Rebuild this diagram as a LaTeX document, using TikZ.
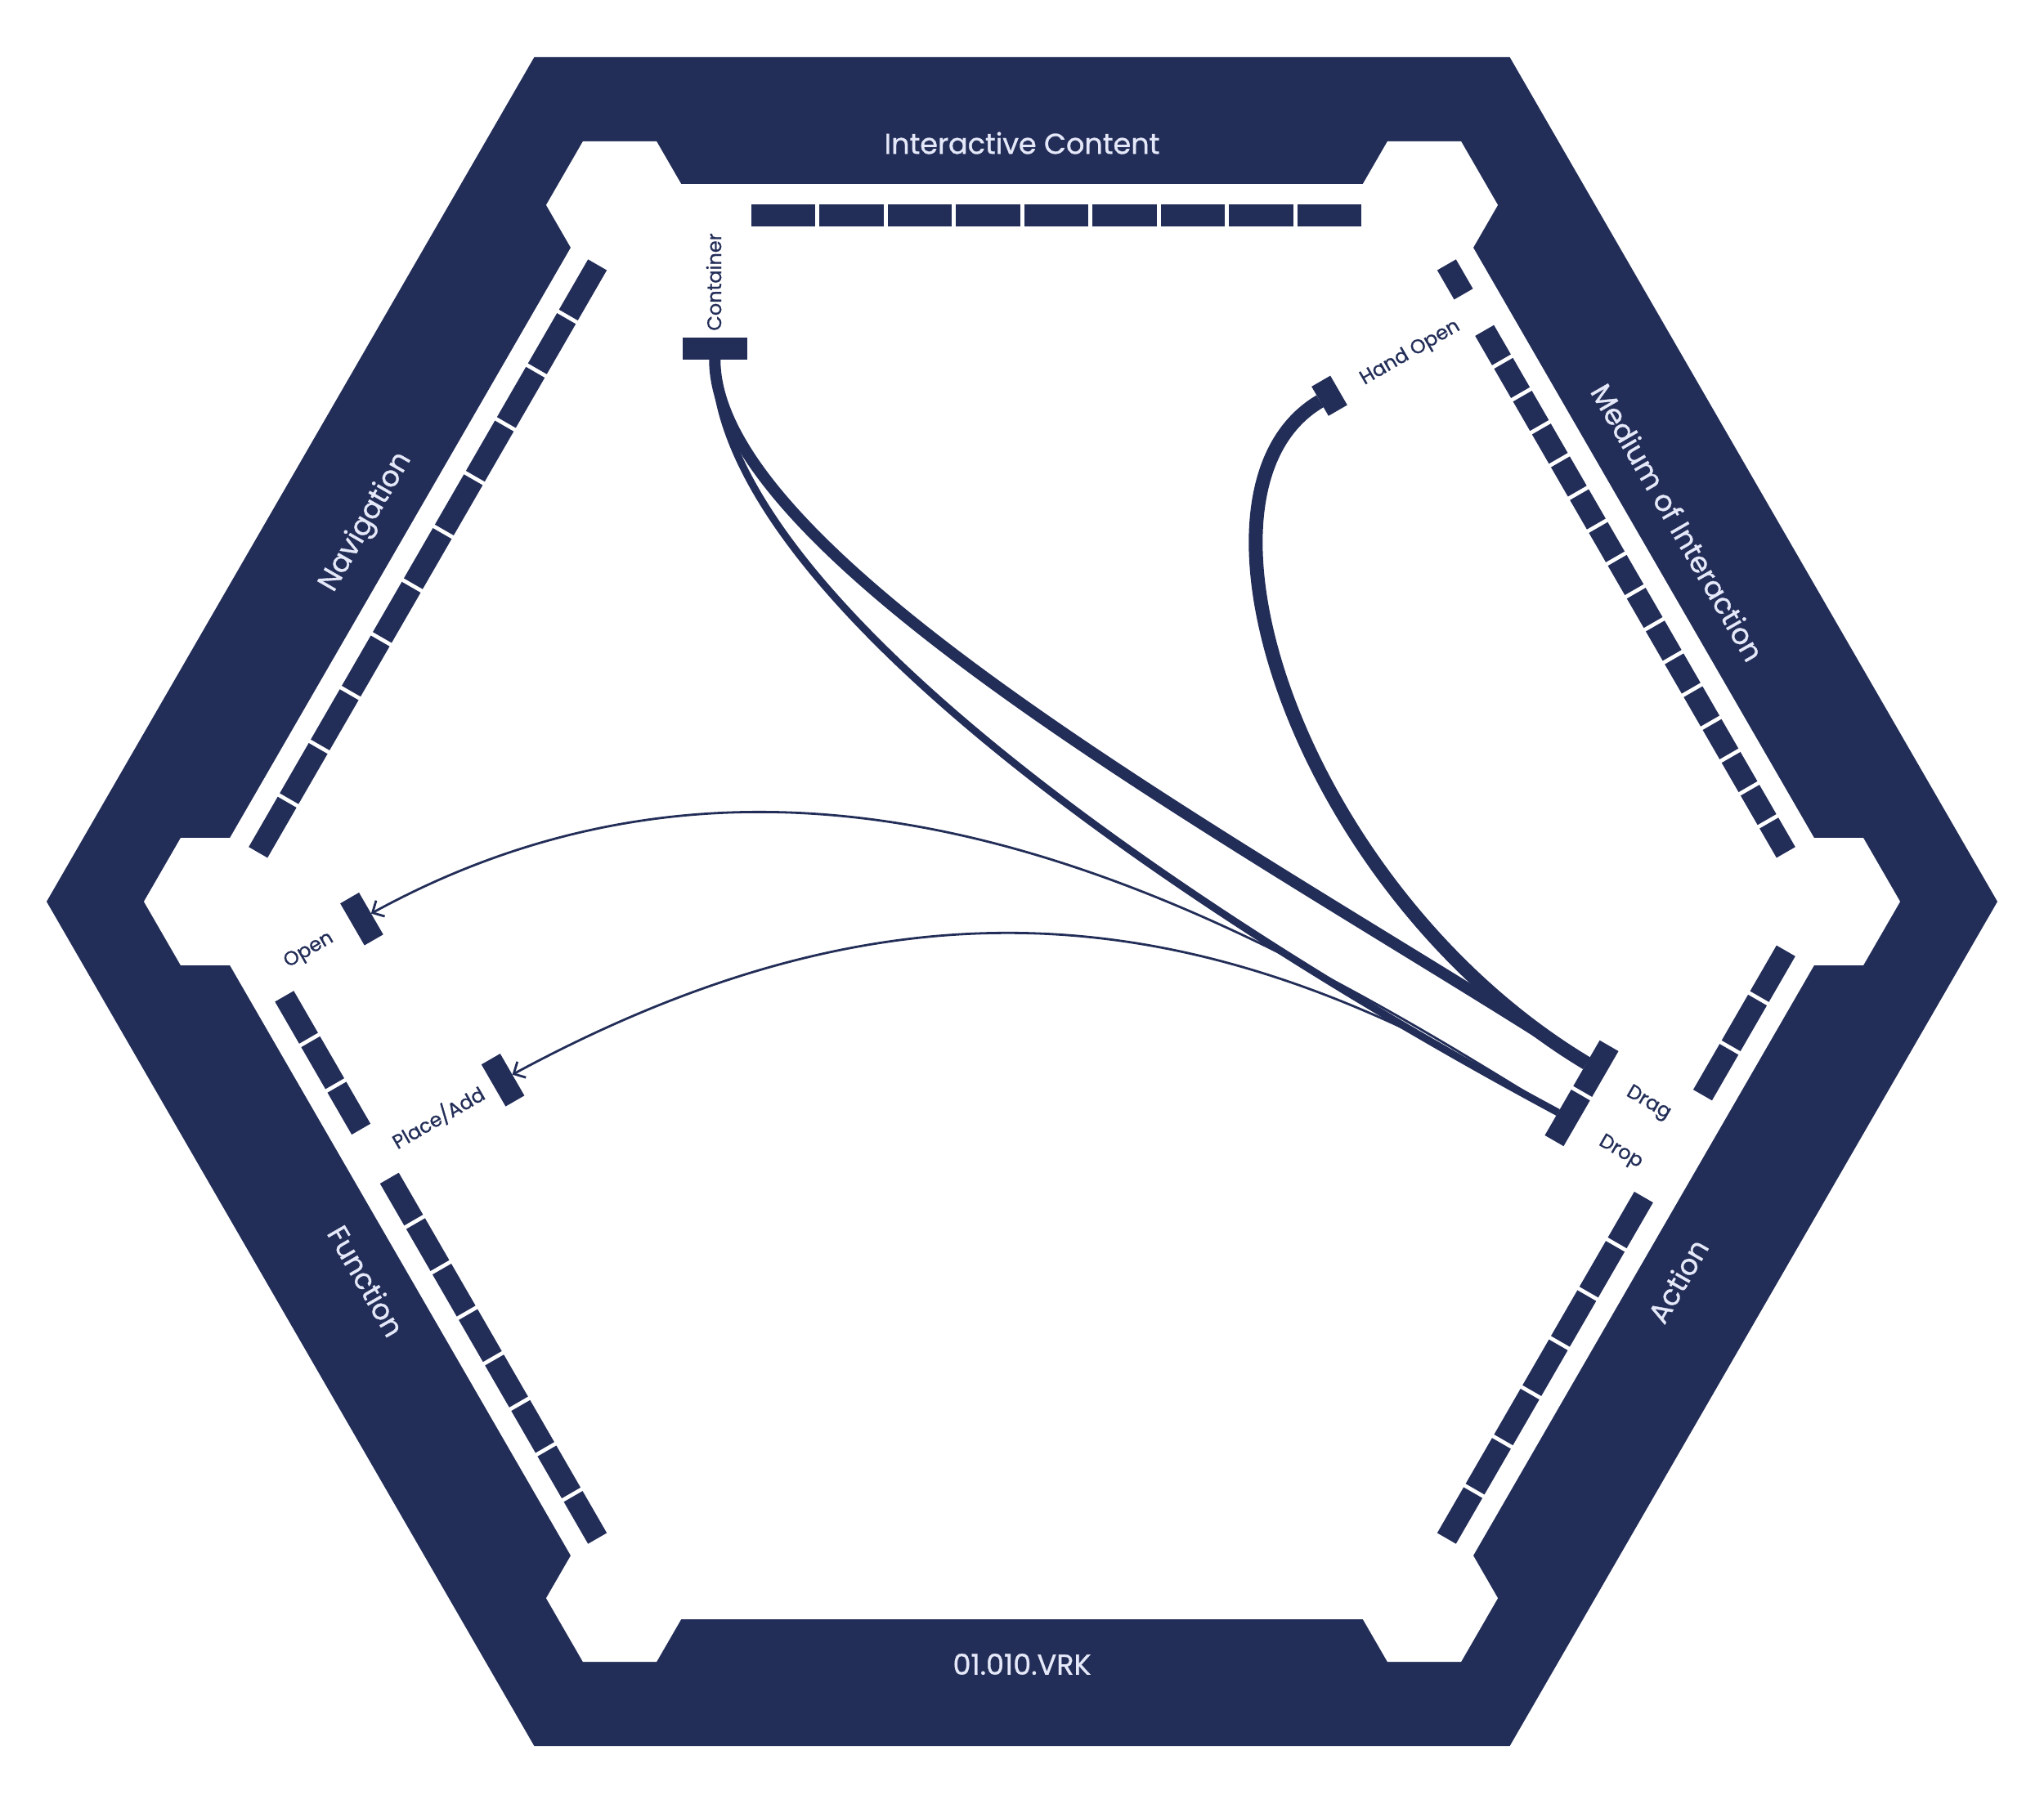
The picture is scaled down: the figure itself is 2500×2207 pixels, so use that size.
\documentclass[tikz,border=0pt]{standalone}
\usepackage{fontspec}
\setmainfont{Poppins}
\newfontface\labfont{Poppins}[FakeBold=0.9]
\usetikzlibrary{arrows.meta}
\definecolor{navy}{RGB}{35,46,88}
\definecolor{pale}{RGB}{228,232,248}
\begin{document}
\begin{tikzpicture}[x=1pt,y=1pt,
  mk/.style={fill=navy,draw=none,inner sep=0pt,outer sep=0pt,minimum height=26.5pt},
  band/.style={text=pale,font=\labfont\fontsize{35}{40}\selectfont,inner sep=0pt},
  lab/.style={text=navy,font=\labfont\fontsize{24}{28}\selectfont,inner sep=0pt},
  conn/.style={draw=navy,line cap=butt},
  thinarrow/.style={draw=navy,line width=2.8pt,-{Straight Barb[length=11pt,width=22pt]}}
]
\useasboundingbox (0,0) rectangle (2500,-2207);

% ---- frame ----
\begin{scope}[shift={(1250,-1103)}]
  \fill[navy] (0:1193) -- (60:1193) -- (120:1193) -- (180:1193) -- (240:1193) -- (300:1193) -- cycle;
  \fill[white] (0:1013.8) -- (60:1013.8) -- (120:1013.8) -- (180:1013.8) -- (240:1013.8) -- (300:1013.8) -- cycle;
  \foreach \a in {0,60,...,300} {
    \begin{scope}[shift={(\a:984)}]
      \fill[white] (0:90) -- (60:90) -- (120:90) -- (180:90) -- (240:90) -- (300:90) -- cycle;
    \end{scope}
  }
  % top row (10 slots)
  \foreach \i in {1,...,9} \fill[navy] ({-415+\i*83.5},826) rectangle ++(78.5,26.5);
  % navigation (11 slots)
  \begin{scope}[rotate=60]
    \foreach \i in {0,...,10} \fill[navy] ({-415+\i*75.909},826) rectangle ++(70.909,26.5);
  \end{scope}
  % medium of interaction (18 slots)
  \begin{scope}[rotate=-60]
    \foreach \i in {0,2,3,...,17} \fill[navy] ({-415+\i*46.389},826) rectangle ++(41.389,26.5);
  \end{scope}
  % action (12 slots)
  \begin{scope}[rotate=240]
    \foreach \i in {0,1,2,5,6,...,11} \fill[navy] ({-415+\i*69.583},826) rectangle ++(64.583,26.5);
  \end{scope}
  % function (13 slots)
  \begin{scope}[rotate=120]
    \foreach \i in {0,...,7,9,10,11} \fill[navy] ({-415+\i*64.231},826) rectangle ++(59.231,26.5);
  \end{scope}
\end{scope}

% ---- selected markers ----
\begin{scope}[shift={(1250,-1103)}]
  \node[mk,minimum width=78.5pt] (container) at (-375.75,676.5) {};
\end{scope}
\begin{scope}[shift={(1250,-1103)},rotate=-60]
  \node[mk,minimum width=41.389pt,rotate=-60] (handopen) at (-347.9,635) {};
\end{scope}
\begin{scope}[shift={(1250,-1103)},rotate=240]
  \node[mk,minimum width=64.583pt,rotate=240] (drag) at (-174,710) {};
  \node[mk,minimum width=64.583pt,rotate=240] (drop) at (-104.4,710) {};
\end{scope}
\begin{scope}[shift={(1250,-1103)},rotate=120]
  \node[mk,minimum width=59.231pt,rotate=120] (open) at (385.4,710) {};
  \node[mk,minimum width=59.231pt,rotate=120] (placeadd) at (128.4,659) {};
\end{scope}

% ---- band labels ----
\node[band] (tInteractive) at (1250,-175) {Interactive Content};
\node[band] (tVRK) at (1250,-2036) {01.010.VRK};
\node[band,rotate=60] (tNavigation) at (448,-639) {Navigation};
\node[band,rotate=-60] (tMedium) at (2052,-639) {Medium of Interaction};
\node[band,rotate=60] (tAction) at (2052,-1567) {Action};
\node[band,rotate=-60] (tFunction) at (448,-1567) {Function};

% ---- marker labels ----
\node[lab,rotate=90] (lContainer) at (873,-345) {Container};
\node[lab,rotate=30] (lHandOpen) at (1725,-432) {Hand Open};
\node[lab,rotate=-30] (lDrag) at (2016,-1350) {Drag};
\node[lab,rotate=-30] (lDrop) at (1982,-1410) {Drop};
\node[lab,rotate=30] (lOpen) at (378,-1163) {Open};
\node[lab,rotate=30] (lPlace) at (536,-1367) {Place/Add};

% ---- connectors ----
\draw[conn,line width=9pt] (container.south) .. controls (874,-720) and (1426,-1103.5) .. (drop.south);
\draw[conn,line width=14pt] (container.south) .. controls (874,-690) and (1564,-1057) .. (drag.south);
\draw[conn,line width=17pt] (handopen.south) .. controls (1427,-601.5) and (1590,-1090) .. (drag.south);
\draw[thinarrow] (drop.south) .. controls (1522.5,-1121.5) and (995.6,-820.6) .. (open.south);
\draw[thinarrow] (drop.south) .. controls (1485,-1102) and (1108,-1054.5) .. (placeadd.south);
\end{tikzpicture}
\end{document}
